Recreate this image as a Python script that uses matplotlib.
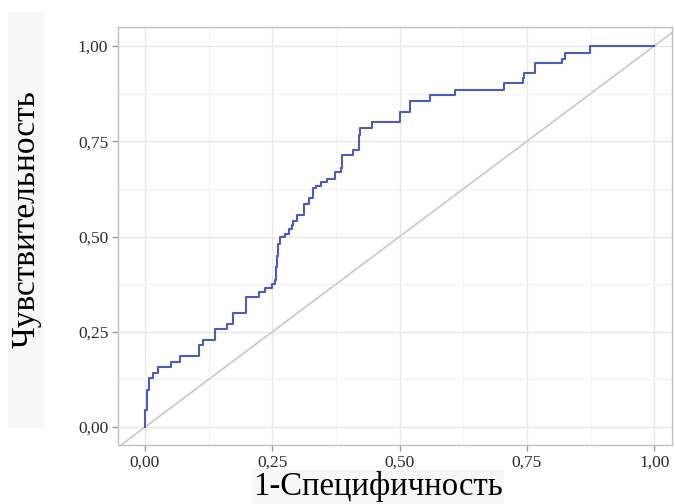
import matplotlib
matplotlib.use('Agg')
import matplotlib.pyplot as plt
from matplotlib.patches import Rectangle
from matplotlib.ticker import MultipleLocator, FuncFormatter

# ROC curve breakpoints (1-specificity, sensitivity), drawn as post steps
fpr = [0.000, 0.000, 0.003, 0.007, 0.015, 0.026, 0.052, 0.069, 0.106, 0.113,
       0.138, 0.162, 0.172, 0.198, 0.223, 0.236, 0.249, 0.255, 0.257, 0.259,
       0.262, 0.266, 0.275, 0.282, 0.288, 0.291, 0.298, 0.312, 0.323, 0.329,
       0.336, 0.346, 0.358, 0.373, 0.384, 0.386, 0.409, 0.421, 0.422, 0.446,
       0.501, 0.521, 0.560, 0.609, 0.705, 0.742, 0.745, 0.766, 0.819, 0.825,
       0.874, 1.000]
tpr = [0.000, 0.045, 0.097, 0.128, 0.142, 0.157, 0.170, 0.186, 0.215, 0.228,
       0.257, 0.270, 0.300, 0.342, 0.355, 0.365, 0.375, 0.386, 0.420, 0.450,
       0.480, 0.500, 0.508, 0.520, 0.530, 0.541, 0.556, 0.585, 0.600, 0.627,
       0.633, 0.644, 0.652, 0.670, 0.680, 0.714, 0.728, 0.766, 0.784, 0.801,
       0.828, 0.856, 0.871, 0.885, 0.902, 0.916, 0.928, 0.955, 0.967, 0.983,
       1.000, 1.000]

tick_values = [0.0, 0.25, 0.5, 0.75, 1.0]
x_label = "1-Специфичность"
y_label = "Чувствительность"

serif = ['Liberation Serif', 'DejaVu Serif']

fig = plt.figure(figsize=(6.75, 5.04), dpi=100)
fig.patch.set_facecolor('white')
ax = fig.add_axes([118/675, 1 - 445/504, (672-118)/675, (445-27)/504])

ax.set_xlim(-0.053, 1.035)
ax.set_ylim(-0.047, 1.050)

ax.xaxis.set_major_locator(MultipleLocator(0.25))
ax.yaxis.set_major_locator(MultipleLocator(0.25))
ax.xaxis.set_minor_locator(MultipleLocator(0.125))
ax.yaxis.set_minor_locator(MultipleLocator(0.125))
ax.grid(which='major', color='#e8e8e8', linewidth=1.0)
ax.grid(which='minor', color='#f3f3f3', linewidth=0.8)
ax.set_axisbelow(True)

fmt = FuncFormatter(lambda v, p: f"{v:.2f}".replace('.', ','))
ax.xaxis.set_major_formatter(fmt)
ax.yaxis.set_major_formatter(fmt)
ax.set_xticks(tick_values)
ax.set_yticks(tick_values)
ax.tick_params(which='minor', length=0)
ax.tick_params(which='major', length=4, width=1, color='#999999',
               labelsize=12.5, labelcolor='#2b2b2b', pad=3)
for lab in ax.get_xticklabels() + ax.get_yticklabels():
    lab.set_family(serif)

for s in ax.spines.values():
    s.set_color('#c0c0c0')
    s.set_linewidth(1.0)

ax.axline((0, 0), (1, 1), color='#cccccc', linewidth=1.3, zorder=2)
ax.plot(fpr, tpr, drawstyle='steps-post', color='#4a5cbf', linewidth=1.5, zorder=3)

# y label with light background
fig.patches.append(Rectangle((8/675, 1 - 428/504), 36/675, 416/504,
                             transform=fig.transFigure, facecolor='#f7f7f7',
                             edgecolor='none', zorder=0))
fig.text(26/675, 1 - 219/504, y_label, rotation=90, ha='center', va='center',
         fontsize=24, family=serif, color='black')

fig.text(378/675, 1 - 487/504, x_label, ha='center', va='center',
         fontsize=23.5, family=serif, color='black',
         bbox=dict(facecolor='#f7f7f7', edgecolor='none', pad=1.0))

fig.savefig('out.png', dpi=100)
